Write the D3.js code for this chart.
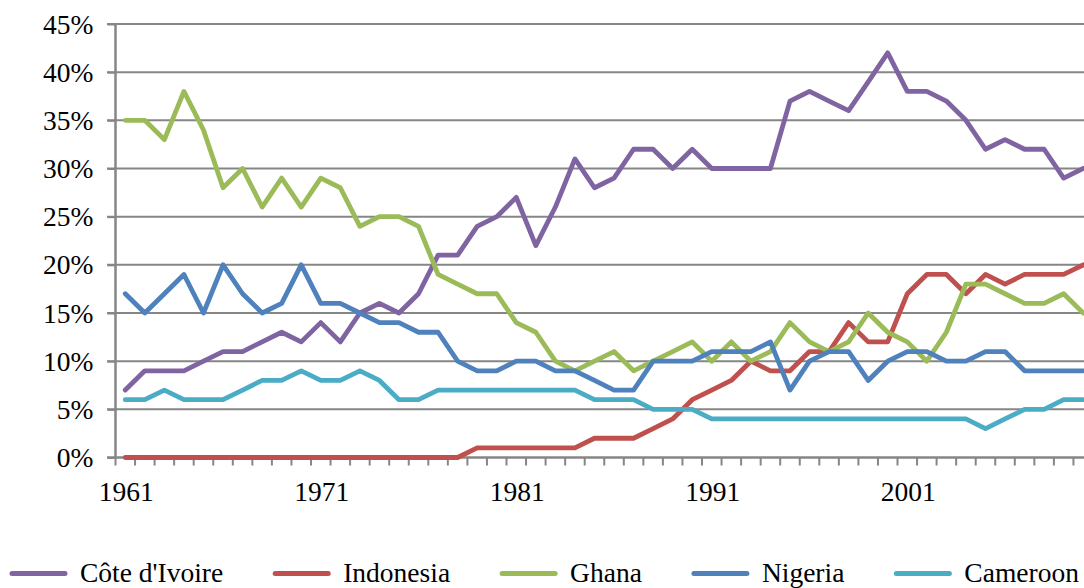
<!DOCTYPE html>
<html>
<head>
<meta charset="utf-8">
<script src="https://cdn.jsdelivr.net/npm/d3@7"></script>
</head>
<body style="margin:0;padding:0;background:#fff">
<svg id="chart" width="1084" height="588" style="display:block"></svg>
<script>
const years = d3.range(1961, 2011);
const xTickLabels = [1961, 1971, 1981, 1991, 2001];
const yTicks = [0, 5, 10, 15, 20, 25, 30, 35, 40, 45];

const coteDIvoire = [7,9,9,9,10,11,11,12,13,12,14,12,15,16,15,17,21,21,24,25,27,22,26,31,28,29,32,32,30,32,30,30,30,30,37,38,37,36,39,42,38,38,37,35,32,33,32,32,29,30];
const indonesia = [0,0,0,0,0,0,0,0,0,0,0,0,0,0,0,0,0,0,1,1,1,1,1,1,2,2,2,3,4,6,7,8,10,9,9,11,11,14,12,12,17,19,19,17,19,18,19,19,19,20];
const ghana = [35,35,33,38,34,28,30,26,29,26,29,28,24,25,25,24,19,18,17,17,14,13,10,9,10,11,9,10,11,12,10,12,10,11,14,12,11,12,15,13,12,10,13,18,18,17,16,16,17,15];
const nigeria = [17,15,17,19,15,20,17,15,16,20,16,16,15,14,14,13,13,10,9,9,10,10,9,9,8,7,7,10,10,10,11,11,11,12,7,10,11,11,8,10,11,11,10,10,11,11,9,9,9,9];
const cameroon = [6,6,7,6,6,6,7,8,8,9,8,8,9,8,6,6,7,7,7,7,7,7,7,7,6,6,6,5,5,5,4,4,4,4,4,4,4,4,4,4,4,4,4,4,3,4,5,5,6,6];

const seriesNames = ["Côte d'Ivoire", "Indonesia", "Ghana", "Nigeria", "Cameroon"];
const seriesValues = [coteDIvoire, indonesia, ghana, nigeria, cameroon];
const seriesColors = ["#8064A2", "#C0504D", "#9BBB59", "#4F81BD", "#4BACC6"];

const FONT = "Liberation Serif";
const FSIZE = "27.5px";
const svg = d3.select("#chart");
const left = 115.5, step = 19.55;
const x = d3.scaleBand().domain(years).range([left, left + step * years.length]).padding(0);
const xc = yr => x(yr) + x.bandwidth() / 2;
const y = d3.scaleLinear().domain([0, 45]).range([457.5, 24]);

const axisColor = "#868686";

// gridlines
svg.append("g").selectAll("line").data(yTicks.filter(d => d > 0)).join("line")
  .attr("x1", 107).attr("x2", 1084)
  .attr("y1", d => y(d)).attr("y2", d => y(d))
  .attr("stroke", axisColor).attr("stroke-width", 2);

// y axis
const yAxis = svg.append("g").attr("transform", `translate(${left},0)`)
  .call(d3.axisLeft(y).tickValues(yTicks).tickSize(8).tickPadding(14).tickFormat(d => d + "%"));
yAxis.select(".domain").attr("stroke", axisColor).attr("stroke-width", 2.5).attr("d", `M0,${y(0)}V${y(45)}`);
yAxis.selectAll(".tick line").attr("stroke", axisColor).attr("stroke-width", 2);
yAxis.selectAll(".tick text").attr("dy", "0.33em").attr("fill", "#000");

// x axis baseline
svg.append("line").attr("x1", 107).attr("x2", 1084).attr("y1", y(0)).attr("y2", y(0))
  .attr("stroke", axisColor).attr("stroke-width", 2.5);
// x ticks between categories
const tickPos = years.map(yr => x(yr)).concat([x(years[years.length - 1]) + step]);
svg.append("g").selectAll("line").data(tickPos.filter(p => p <= 1084)).join("line")
  .attr("x1", d => d).attr("x2", d => d)
  .attr("y1", y(0)).attr("y2", y(0) + 8)
  .attr("stroke", axisColor).attr("stroke-width", 2);
// x labels
svg.append("g").selectAll("text").data(xTickLabels).join("text")
  .attr("x", d => xc(d) + 1).attr("y", 501)
  .attr("text-anchor", "middle")
  .text(d => d);

// lines
const line = d3.line().x((d, i) => xc(years[i])).y(d => y(d));
const plotG = svg.append("g");
seriesValues.forEach((vals, k) => {
  plotG.append("path").datum(vals)
    .attr("d", line)
    .attr("fill", "none")
    .attr("stroke", seriesColors[k])
    .attr("stroke-width", 4.8)
    .attr("stroke-linejoin", "round")
    .attr("stroke-linecap", "round");
});

// legend
const legend = svg.append("g");
let lx = 10;
seriesNames.forEach((name, k) => {
  legend.append("line")
    .attr("x1", lx + 2).attr("x2", lx + 55)
    .attr("y1", 573.5).attr("y2", 573.5)
    .attr("stroke", seriesColors[k]).attr("stroke-width", 5)
    .attr("stroke-linecap", "round");
  const t = legend.append("text").attr("x", lx + 70).attr("y", 582)
    .style("font-family", FONT).style("font-size", FSIZE).text(name);
  const w = t.node().getComputedTextLength();
  lx = lx + 70 + w + 50;
});

svg.selectAll("text").style("font-family", FONT).style("font-size", FSIZE).style("fill", "#000");
</script>
</body>
</html>
